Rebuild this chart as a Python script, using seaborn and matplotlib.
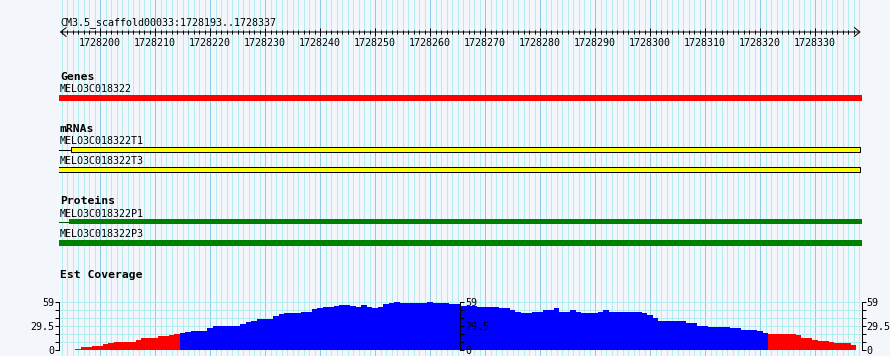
import numpy as np
import pandas as pd
import matplotlib
matplotlib.use("Agg")
import matplotlib.pyplot as plt
from matplotlib.ticker import FixedLocator, NullFormatter
import seaborn as sns


# Данные
ref_name = "CM3.5_scaffold00033"
view_start = 1728193
view_end = 1728337

gene_names = ["MELO3C018322"]
gene_starts = [1728150]
gene_ends = [1728400]

mrna_names = ["MELO3C018322T1", "MELO3C018322T3"]
mrna_starts = [1728194.7, 1728150]
mrna_ends = [1728338.2, 1728338.2]
mrna_line_starts = [1728150, 1728150]

protein_names = ["MELO3C018322P1", "MELO3C018322P3"]
protein_starts = [1728194.3, 1728150]
protein_ends = [1728400, 1728400]
protein_line_starts = [1728150, 1728150]

coverage = [0, 0, 0, 1, 4, 4, 5, 5, 8, 9,
            10, 10, 10, 10, 13, 15, 15, 15, 17, 17,
            19, 20, 21, 22, 23, 23, 23, 27, 29, 30,
            30, 30, 30, 32, 34, 35, 38, 38, 38, 42,
            44, 45, 45, 45, 46, 46, 50, 51, 52, 52,
            54, 55, 55, 54, 52, 55, 52, 51, 52, 56,
            57, 59, 57, 57, 57, 57, 57, 58, 57, 57,
            57, 56, 56, 54, 54, 54, 52, 52, 52, 52,
            51, 51, 49, 47, 45, 45, 46, 47, 49, 49,
            51, 47, 47, 49, 47, 45, 45, 45, 47, 49,
            46, 46, 47, 47, 47, 47, 45, 43, 39, 36,
            36, 36, 36, 35, 33, 33, 30, 30, 28, 28,
            28, 28, 27, 27, 25, 25, 25, 23, 21, 20,
            20, 20, 20, 20, 19, 15, 15, 13, 11, 11,
            10, 9, 9, 9, 7]
cov_max = 59
cov_labels = ["0", "29.5", "59"]
low_cutoff = 20

track_titles = ["Genes", "mRNAs", "Proteins", "Est Coverage"]


# Оформление
W, H = 890, 356
BG = "#f3f6fa"
GRID_MINOR = "#b2eef0"
GRID_MAJOR = "#8ccbec"
PX = 0.72  # 1 пиксель в пунктах

plt.rcParams["font.family"] = ["DejaVu Sans Mono"]
plt.rcParams["font.size"] = 7.2

fig = plt.figure(figsize=(W / 100, H / 100), dpi=100, facecolor=BG)

X0, X1 = 58.75, 861.75
xlo, xhi = view_start - 0.5, view_end + 1.5


def add_box(top, bottom):
    return fig.add_axes([X0 / W, 1 - bottom / H, (X1 - X0) / W, (bottom - top) / H])


def put_text(x, y, s, **kw):
    fig.text(x / W, 1 - y / H, s, va="baseline", ha="left", **kw)


# Фоновая сетка
bg = add_box(0, H)
bg.set_facecolor(BG)
bg.set_xlim(xlo, xhi)
bg.set_ylim(0, 1)
bg.set_xticks(np.arange(1728200, view_end + 2, 10))
bg.set_xticks(np.arange(view_start, view_end + 2), minor=True)
bg.grid(which="minor", axis="x", color=GRID_MINOR, lw=PX)
bg.grid(which="major", axis="x", color=GRID_MAJOR, lw=PX)
bg.tick_params(which="both", length=0, labelbottom=False, labelleft=False)
bg.set_yticks([])
for s in bg.spines.values():
    s.set_visible(False)


# Линейка
ruler = add_box(22, 32)
ruler.set_xlim(xlo, xhi)
ruler.set_ylim(0, 1)
ruler.patch.set_visible(False)
for s in ruler.spines.values():
    s.set_visible(False)
ruler.set_yticks([])
ruler_major = np.arange(1728200, view_end + 1, 10)
ruler.set_xticks(ruler_major, labels=[str(v) for v in ruler_major])
ruler.set_xticks(np.arange(view_start, view_end + 1), minor=True)
ruler.tick_params(axis="x", which="major", direction="inout", length=6, width=PX,
                  labelsize=7.2, pad=1.5)
ruler.tick_params(axis="x", which="minor", direction="inout", length=3.5, width=PX)
ruler.annotate("", xy=(xlo + 0.2, 0), xytext=(xhi - 0.2, 0),
               arrowprops=dict(arrowstyle="<->,head_length=0.5,head_width=0.4",
                               lw=PX, color="black", shrinkA=0, shrinkB=0,
                               mutation_scale=8))
put_text(60, 25, "%s:%d..%d" % (ref_name, view_start, view_end), fontsize=7.2)


# Дорожки с объектами
def feature_row(top, bottom, start, end, color, edge=None, line_start=None, line_color="black"):
    pad = 2
    ax = add_box(top - pad, bottom + pad)
    ax.set_xlim(xlo, xhi)
    frac = pad / (bottom - top)
    ax.set_ylim(1 + frac, -frac)
    ax.axis("off")
    if line_start is not None and line_start < start:
        ax.hlines(0.5, line_start, start, color=line_color, lw=PX)
    ax.barh(0.5, end - start, left=start, height=1, color=color,
            edgecolor=edge if edge else color, linewidth=PX if edge else 0)
    return ax


put_text(60, 80, track_titles[0], fontsize=8.2, fontweight="bold")
put_text(60, 92, gene_names[0])
feature_row(95.3, 100.7, gene_starts[0], gene_ends[0], "#ff0000")

put_text(60, 132, track_titles[1], fontsize=8.2, fontweight="bold")
mrna_rows = [(147, 152, 144), (167, 171.5, 164)]
for i, (t, b, lab_y) in enumerate(mrna_rows):
    put_text(60, lab_y, mrna_names[i])
    feature_row(t, b, mrna_starts[i], mrna_ends[i], "#ffff00", edge="black",
                line_start=mrna_line_starts[i] if i == 0 else None)

put_text(60, 204, track_titles[2], fontsize=8.2, fontweight="bold")
prot_rows = [(218.7, 224.3, 217), (240, 245.7, 237)]
for i, (t, b, lab_y) in enumerate(prot_rows):
    put_text(60, lab_y, protein_names[i])
    feature_row(t, b, protein_starts[i], protein_ends[i], "#008000",
                line_start=protein_line_starts[i] if i == 0 else None,
                line_color="#005000")


# Покрытие EST
put_text(60, 278, track_titles[3], fontsize=8.2, fontweight="bold")

cov = pd.DataFrame({"pos": np.arange(view_start, view_start + len(coverage)),
                    "depth": coverage})
cov["level"] = np.where(cov["depth"] <= low_cutoff, "low", "high")

ax = add_box(301.6, 350.3)
ax.patch.set_visible(False)
sns.barplot(data=cov, x="pos", y="depth", hue="level", native_scale=True,
            palette={"low": "#ff0000", "high": "#0000ff"}, saturation=1,
            width=1, dodge=False, linewidth=0, legend=False, ax=ax)
for p in ax.patches:
    p.set_antialiased(False)
ax.set_xlim(xlo, xhi)
ax.set_ylim(0, cov_max)
ax.set_xlabel("")
ax.set_ylabel("")
ax.set_xticks([])

major = [0, cov_max / 2, cov_max]
minor = [cov_max * k / 6 for k in range(7)]
ax.set_yticks(major, labels=cov_labels)
ax.yaxis.set_minor_locator(FixedLocator(minor))
ax.grid(axis="y", which="both", color=GRID_MINOR, lw=PX)
ax.set_axisbelow(True)
ax.tick_params(axis="y", which="both", direction="out", length=3, width=PX, pad=0.5,
               labelsize=7.2)
for s in ["top", "right", "bottom"]:
    ax.spines[s].set_visible(False)
ax.spines["left"].set_linewidth(PX)

for loc in [0.5, "right"]:
    sec = ax.secondary_yaxis(loc)
    sec.set_zorder(10)
    sec.set_yticks(major, labels=cov_labels)
    sec.yaxis.set_minor_locator(FixedLocator(minor))
    sec.yaxis.set_minor_formatter(NullFormatter())
    sec.tick_params(axis="y", which="both", direction="out", length=3, width=PX,
                    pad=0.5, labelsize=7.2)
    for s in sec.spines.values():
        s.set_linewidth(PX)

plt.savefig("out.png", dpi=100, facecolor=BG)
